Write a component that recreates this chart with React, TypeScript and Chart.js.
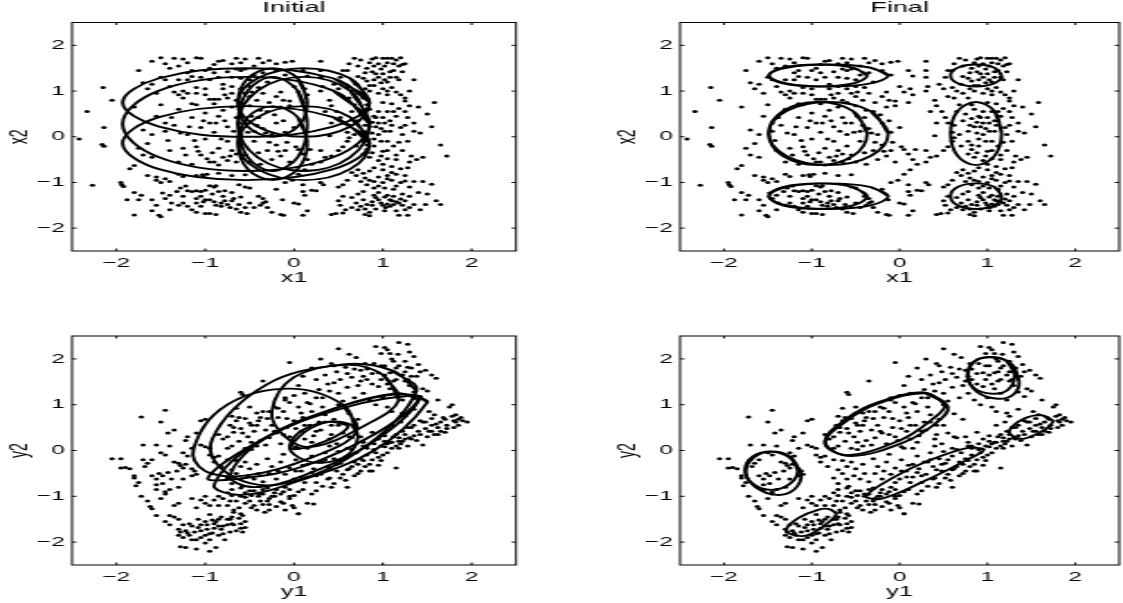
import React, { useEffect, useRef } from "react";
import Chart from "chart.js/auto";

const tickValues = [-2, -1, 0, 1, 2];
const panelTitles = ["Initial", "Final", "", ""];
const xLabels = ["x1", "x1", "y1", "y1"];
const yLabels = ["x2", "x2", "y2", "y2"];

// observed x-space dots as x,y pairs
const xDots = [
-2.33,.55,-2.42,-.05,-2.15,1.08,-2.05,.8,-2.16,-.17,-2.14,-.21,-2.14,.2,-2.27,-1.06,-1.95,-1.0,-1.94,-1.05,-1.92,-1.09,-1.8,.65,-1.85,-.7,-1.8,-.63,
-1.88,-1.38,-1.8,-1.22,-1.72,-1.28,-1.75,-1.38,-1.8,-1.71,-1.6,-1.62,-1.52,-1.72,-1.5,-1.75,-1.6,-1.38,-1.55,-1.5,-1.48,-1.23,-1.4,-1.28,-1.4,-1.6,-1.38,-1.45,
-1.65,-.85,-1.55,-.88,-1.55,-.95,-1.45,-.92,-1.4,-.98,-1.5,-1.0,-1.3,-.82,-1.25,-.87,-1.1,-.85,-1.03,-.83,-1.02,-.87,-.98,-.82,-.85,-.8,-.7,-.85,-.55,-.83,
-1.22,-1.08,-1.15,-1.2,-1.1,-1.18,-1.05,-1.2,-1.0,-1.17,-.95,-1.07,-.9,-1.1,-.88,-1.07,-.85,-1.2,-.8,-1.3,-.7,-1.22,-.62,-1.05,-.55,-1.1,-.5,-1.12,-.4,-1.3,
-1.2,-1.52,-1.1,-1.65,-1.15,-1.6,-1.0,-1.68,-.95,-1.68,-.88,-1.7,-.9,-1.42,-.88,-1.5,-.95,-1.38,-.82,-1.45,-.82,-1.52,-.72,-1.55,-.65,-1.58,-.6,-1.65,-.53,-1.68,-.45,-1.55,-.38,-1.5,-.35,-1.45,-.35,-1.35,-.3,-1.55,-.25,-1.65,-.15,-1.7,-.12,-1.72,-.13,-1.38,
.0,-1.45,.05,-1.47,.1,-1.72,.15,-1.62,.12,-1.28,.2,-1.17,.25,-1.18,.1,-1.2,.3,-1.0,.33,-1.05,.42,-1.7,.47,-1.68,.55,-1.67,.5,-1.1,.55,-1.05,.55,-1.3,.5,-1.4,.52,-1.5,
.58,-1.6,.65,-1.55,.65,-1.33,.7,-1.45,.72,-1.25,.72,-1.6,.8,-1.58,.8,-1.7,.82,-1.48,.85,-1.65,.85,-1.73,.88,-1.5,.92,-1.58,.9,-1.28,.95,-1.22,1.0,-1.5,1.02,-1.62,1.05,-1.28,1.05,-1.47,1.08,-1.52,1.1,-1.4,1.12,-1.48,1.15,-1.42,1.15,-1.62,1.18,-1.72,1.2,-1.36,1.22,-1.5,1.25,-1.6,1.28,-1.72,1.3,-1.3,1.35,-1.48,1.4,-1.22,1.42,-1.6,1.48,-1.48,1.5,-1.25,1.6,-1.4,1.65,-1.48,1.55,-1.04,
1.45,-.98,1.35,-.98,1.25,-.97,1.2,-1.0,1.1,-.95,1.05,-.92,1.0,-1.0,.9,-.98,.85,-.95,.8,-.9,.75,-.98,.7,-.85,.65,-.78,.72,-.72,.85,-.75,1.0,-.72,1.1,-.65,1.2,-.7,1.28,-.68,1.3,-.55,1.38,-.5,1.15,-.5,1.05,-.48,.95,-.52,.85,-.45,
-.1,-1.0,-.02,-.95,.05,-.82,.12,-.72,.2,-.6,.3,-.55,.35,-.45,.42,-.42,.3,-.3,.18,-.28,.1,-.38,.15,-.5,.05,-.28,.5,-.3,.55,-.22,.6,-.1,.68,.05,.4,.02,.42,.3,.35,.55,.4,.8,.3,1.0,.32,1.1,.12,1.05,.15,1.33,.3,1.45,.3,1.65,
-1.6,.05,-1.7,.15,-1.75,-.25,-1.7,-.4,-1.65,-.15,-1.6,-.45,-1.55,.45,-1.5,.7,-1.45,.3,-1.42,-.08,-1.4,-.3,-1.35,.25,-1.3,.6,-1.3,-.55,-1.25,.85,-1.25,-.25,-1.2,.05,-1.15,.42,-1.15,-.6,-1.1,.7,-1.1,-.22,-1.05,.2,-1.05,-.4,-1.0,.52,-1.0,-.05,-.95,.3,-.95,-.55,-.9,.72,-.9,.1,-.85,-.25,-.85,.45,-.8,-.45,-.8,.58,-.75,-.1,-.75,.22,-.7,.65,-.7,-.3,-.65,-.55,-.65,.42,-.6,.05,-.6,-.2,-.55,.3,-.55,-.4,-.5,.68,-.5,-.55,-.45,.12,-.45,-.1,-.4,.42,-.4,-.35,-.38,-.6,-.35,.18,-.3,-.3,-.3,.55,-.25,.05,-.25,-.5,-.2,.3,-.2,-.18,-.15,-.42,-.15,.65,-.1,.1,-.1,-.3,-.05,.78,-.05,-.55,.0,.2,.02,-.22,
-1.3,.92,-1.25,1.0,-1.2,.95,-1.15,.72,-1.1,.95,-1.0,.92,-.95,.82,-.9,.82,-.85,.82,-.78,.92,-.75,.85,-.7,.95,-.65,.8,-.6,.75,-.55,.95,-.5,.88,-.48,.98,-.42,.8,-.35,.95,-.28,.75,-.2,.88,-.15,.98,-.12,.8,-.05,.68,.05,.98,.1,.75,.15,.92,
.42,.68,.48,.55,.52,.42,.55,.3,.6,.1,.62,-.02,.65,.55,.68,.7,.72,.95,.78,.85,.82,.7,.85,.6,.9,.45,.92,.22,.95,.05,.98,-.1,1.0,.75,1.02,.3,1.05,.55,1.08,.12,1.1,.72,1.12,-.2,1.15,.45,1.18,.62,1.2,.2,1.22,-.3,1.25,.55,1.28,.42,1.3,.68,1.32,-.42,1.35,.3,1.4,.65,1.42,.08,1.45,-.45,1.5,.5,1.55,.22,1.58,.75,1.65,-.18,1.72,-.42,.62,.25,.7,-.2,.78,-.38,.82,-.18,.88,.32,.9,-.05,.95,.55,1.0,-.32,
.6,1.08,.65,1.0,.7,1.15,.8,1.05,.85,1.0,.9,1.12,.95,.95,1.0,1.05,1.05,.92,1.1,1.08,1.15,.98,1.2,.92,1.25,.85,1.3,1.0,1.25,.78,.55,.88,.62,.85,
-1.6,1.65,-1.5,1.73,-1.45,1.6,-1.4,1.5,-1.35,1.72,-1.3,1.55,-1.25,1.7,-1.2,1.62,-1.15,1.45,-1.1,1.73,-1.05,1.72,-.95,1.5,-.9,1.58,-.85,1.65,-.8,1.67,-.7,1.6,-.65,1.72,-.6,1.62,-.55,1.7,-.45,1.55,-.4,1.72,-.35,1.62,-.28,1.67,-.2,1.6,-.1,1.63,-.02,1.65,.1,1.45,.3,1.3,
-1.75,1.45,-1.7,1.18,-1.65,1.05,-1.6,1.15,-1.55,.95,-1.5,1.3,-1.45,1.25,-1.4,1.1,-1.35,.98,-1.3,1.25,-1.2,1.4,-1.1,1.08,-1.05,1.3,-1.0,1.05,-.9,1.4,-.8,1.15,-.7,1.3,-.6,1.45,-.5,1.25,-.4,1.08,-.35,1.4,-.3,1.2,-.2,1.45,-.1,1.35,.0,1.1,
.45,1.15,.5,1.05,.52,1.3,.55,1.45,.6,1.45,.62,1.6,.68,1.72,.72,1.55,.78,1.28,.8,1.4,.82,1.5,.88,1.7,.9,1.25,.92,1.38,.95,1.6,.98,1.48,1.0,1.72,1.02,1.55,1.05,1.2,1.08,1.42,1.1,1.72,1.12,1.6,1.15,1.3,1.18,1.55,1.2,1.73,1.22,1.42,1.25,1.6,1.35,1.25,.75,1.68,.98,1.18,
-1.45,-1.35,-1.3,-1.5,-1.25,-1.3,-1.05,-1.3,-1.0,-1.38,-.7,-1.4,-.6,-1.32,-.78,-1.18,-1.1,-1.35,-.2,-1.15,-.32,-1.42,.1,-1.05,.95,-1.38,1.02,-1.32,.78,-1.2,1.3,-1.1,.6,-.95,.95,-1.08,
.75,-1.52,.78,-1.38,.88,-1.42,.92,-1.33,.98,-1.45,1.03,-1.55,1.08,-1.38,1.12,-1.3,1.18,-1.45,1.22,-1.25,1.25,-1.4,1.3,-1.55,1.12,-1.15,1.02,-1.12,.9,-1.12,.82,-1.05,1.15,-1.08,.95,-.88,1.05,-.85,1.15,-.82,1.25,-.85,.78,-.8,.9,-.68,1.0,-.6,1.1,-.78,
.72,.35,.75,.5,.78,.12,.8,.25,.82,.4,.85,.22,.88,.08,.9,-.2,.92,.42,.95,.3,.98,.18,1.0,.42,1.02,.12,1.05,-.1,1.08,.35,1.1,.25,1.12,.55,.78,-.1,.82,-.28,.88,-.35,.98,-.42,1.05,-.3,1.15,-.4,1.18,-.12,1.22,.05,1.28,-.1,1.25,.25,1.35,.12,
.72,1.32,.82,1.22,.85,1.62,.88,1.42,.9,1.55,.95,1.3,1.0,1.38,1.02,1.25,1.05,1.62,1.08,1.3,1.12,1.45,1.15,1.68,1.18,1.25,1.22,1.58,1.05,1.72,.92,1.73,.85,1.12,1.05,1.0,
-1.45,.12,-1.38,.42,-1.28,.08,-1.22,-.4,-1.18,.22,-1.12,-.08,-1.08,-.32,-1.02,.35,-.98,-.48,-.92,-.35,-.88,.3,-.82,-.05,-.78,.35,-.72,-.42,-.68,.12,-.62,.3,-.58,-.48,-.52,.1,-.48,.45,-.42,.25,-.38,.58,-.32,.08,-.28,-.12,-.22,.48,-.18,-.32,-.12,.35,-.08,-.12,-.9,-.55,-.85,-.62,-.75,-.52,-.65,-.38,
-1.2,1.25,-1.15,1.32,-1.0,1.45,-.95,1.25,-.85,1.3,-.75,1.42,-.65,1.48,-.6,1.28,-.55,1.48,-.45,1.35,-.8,1.05,-.7,1.1,-.6,1.05,-.5,1.1,
-1.1,-1.45,-1.05,-1.52,-1.02,-1.42,-.78,-1.4,-.75,-1.48,-.68,-1.35,-.62,-1.48,-.55,-1.55,-.5,-1.45,-1.25,-1.45,-1.32,-1.2,-1.28,-1.12,-1.2,-1.18,-.92,-1.25
];

// observed y-space dots as x,y pairs
const yDots = [
-2.05,-.18,-1.95,-.38,-1.9,-.37,-1.95,-.18,-1.85,-.4,-1.8,-.6,-1.75,-.7,-1.78,-.77,-1.8,-.55,-1.7,-.2,-1.68,-.35,-1.6,-.55,-1.55,-.75,-1.6,-.2,-1.65,-.28,-1.7,.12,-1.72,.73,-1.5,.62,-1.45,.88,-1.42,.38,-1.35,.45,-1.55,.12,-1.5,-.05,-1.4,.1,-1.45,-.1,-1.35,-.25,-1.3,-.28,-1.25,-.38,-1.2,-.12,-1.15,-.55,-1.25,-.05,
-1.52,-.5,-1.48,-.55,-1.42,-.48,-1.38,-.62,-1.55,-.62,-1.48,-.72,-1.32,-.45,-1.28,-.33,-1.22,-.3,-1.15,-.4,-1.1,-.52,-1.12,-.45,-1.25,-.62,-1.3,-.8,-1.4,-.85,-1.45,-.95,-1.55,-.85,-1.72,-1.0,-1.65,-1.1,-1.62,-1.22,-1.6,-1.27,-1.55,-1.42,-1.5,-1.05,-1.45,-.9,-1.35,-1.2,-1.4,-1.42,-1.3,-1.15,
-1.22,.22,-1.2,.3,-1.1,.38,-1.05,.65,-1.0,.68,-1.15,.05,-1.05,.12,-1.0,.08,-.95,.05,-.85,.35,-.8,.25,-.95,-.1,-.9,-.15,-.85,-.12,-.75,.05,-.7,.1,
-1.45,-1.55,-1.4,-1.62,-1.35,-1.45,-1.3,-1.72,-1.3,-1.85,-1.28,-2.1,-1.22,-2.12,-1.2,-1.8,-1.15,-1.65,-1.1,-1.95,-1.1,-2.15,-1.05,-1.75,-1.0,-1.55,-1.0,-2.02,-.95,-2.2,-.95,-1.82,-.9,-1.6,-.9,-1.7,-.88,-2.12,-.85,-1.85,-.8,-1.65,-.78,-1.95,-.75,-1.5,-.72,-1.78,-.7,-1.6,-.65,-1.75,-.62,-1.48,-.6,-1.6,-.58,-1.78,-.55,-1.55,
-1.3,-1.5,-1.25,-1.62,-1.22,-1.75,-1.18,-1.6,-1.12,-1.78,-1.08,-1.5,-1.05,-1.62,-1.0,-1.85,-.98,-1.72,-.95,-1.4,-.92,-1.52,-.85,-1.5,-.82,-1.72,-.75,-1.62,-.7,-1.45,-.68,-1.35,-1.15,-1.05,-1.1,-1.25,-1.05,-1.08,-1.0,-1.0,-.95,-1.2,-.9,-1.08,-.85,-1.2,-.8,-1.05,-.75,-1.2,-.7,-.98,-.68,-1.3,-.65,-1.1,-.62,-1.25,-.6,-1.38,-.55,-1.02,-.5,-1.1,-.45,-1.2,-.42,-1.3,-.4,-1.0,-.35,-1.18,-.33,-1.35,-.3,-1.1,-.28,-1.3,-.25,-1.0,-.2,-1.22,-.15,-1.12,-.1,-1.3,-.05,-1.05,.0,-1.25,.05,-1.38,.05,-.9,-.05,-.85,.15,-1.15,.2,-.95,-.35,-.95,-.45,-.88,-.55,-.92,-.6,-.82,-.7,-.85,-.75,-.92,
-.75,-.6,-.7,-.42,-.65,-.5,-.6,-.35,-.6,-.62,-.55,-.25,-.52,-.55,-.5,-.4,-.45,-.62,-.42,-.3,-.4,-.5,-.35,-.68,-.3,-.18,-.28,-.5,-.25,-.35,-.2,-.62,-.18,-.45,-.15,-.25,-.12,-.08,-.1,-.52,-.05,-.38,.0,-.62,.02,-.2,.08,-.45,.1,-.32,.12,-.7,.15,-.58,.2,-.12,.22,-.4,.25,-.7,.28,-.25,.3,-.52,.35,-.05,.38,-.35,.4,-.6,.42,-.8,.45,-.18,.48,-.45,.5,-.02,.52,-.28,.55,-.52,.58,-.65,.6,-.12,.62,-.4,.65,.02,.68,-.25,.7,-.05,.72,-.5,.75,-.18,.78,.1,.8,-.35,.82,.05,.85,-.45,.88,-.2,.9,.15,.92,-.05,.95,-.32,.98,.1,1.0,-.1,1.02,.2,1.05,.15,1.1,.05,1.15,-.38,1.12,.3,1.2,.15,1.25,.25,
-.75,.3,-.72,.55,-.7,.75,-.68,.4,-.65,.92,-.65,.65,-.62,.2,-.6,.48,-.58,1.22,-.6,1.27,-.55,.7,-.52,.3,-.5,.95,-.48,.55,-.45,.42,-.42,.82,-.4,.65,-.38,.22,-.35,1.52,-.35,.85,-.32,.45,-.3,.7,-.28,.28,-.25,.55,-.22,.95,-.2,.38,-.18,.72,-.15,.15,-.12,.85,-.1,1.1,-.08,.5,-.05,.3,-.05,1.92,.0,.65,.02,.08,.05,.95,.08,.42,.1,.72,.12,.25,.15,1.05,.18,.55,.2,.85,.22,.32,.25,1.15,.28,.62,.3,.45,.32,.95,.35,.78,.4,.25,.42,.55,.45,.68,.48,.15,.5,1.0,.55,.38,.6,.05,.62,.8,.65,.28,.72,.68,
-.1,1.15,-.05,1.05,.0,1.2,.05,1.42,.1,1.62,.12,1.25,.18,1.02,.2,1.8,.25,1.55,.28,1.33,.3,2.0,.32,1.15,.35,1.65,.4,1.3,.42,1.9,.45,1.48,.48,1.72,.5,1.25,.5,2.22,.52,1.55,.55,1.08,.58,1.82,.6,1.38,.62,2.1,.65,1.6,.68,1.15,.7,2.03,.72,1.42,.75,1.75,.78,1.25,.8,1.9,.82,1.55,.85,1.1,.88,1.68,.92,1.0,.95,1.4,.98,1.85,1.0,1.15,1.02,1.65,1.05,.95,1.08,1.35,1.1,2.0,1.12,1.52,1.15,1.25,
.92,2.27,.98,2.12,1.02,2.25,1.05,2.2,1.08,2.12,1.12,1.95,1.15,1.8,1.17,2.1,1.18,2.36,1.25,1.95,1.28,2.32,1.3,2.15,1.32,1.8,1.35,2.05,1.38,1.62,1.4,1.88,1.42,1.72,1.45,1.35,1.25,1.52,1.3,1.42,1.22,1.1,1.35,1.28,1.28,1.82,1.48,1.75,1.55,1.65,1.6,1.58,1.42,1.18,1.5,1.3,
1.1,.55,1.15,.35,1.18,.2,1.2,.62,1.22,.42,1.25,.75,1.28,.1,1.3,.28,1.32,.5,1.35,.55,1.38,.22,1.4,.42,1.42,.65,1.45,.12,1.48,.48,1.5,.3,1.52,.85,1.55,.42,1.58,.78,1.6,.58,1.62,.35,1.65,.62,1.68,.72,1.7,.4,1.72,.55,1.75,.95,1.78,1.0,1.8,.65,1.82,.78,1.85,.55,1.88,.72,1.9,.65,1.95,.62,1.62,1.1,1.8,.5,1.55,.7,1.45,.62,1.35,.9,1.22,.82,1.1,.85,1.18,.05,1.08,.18,1.02,.32,
-.05,-.7,-.1,-.8,-.2,-.85,-.3,-.82,-.4,-.95,-.5,-.88,-.58,-.78,-.7,-.72,.05,-1.38,-.05,-1.0,-.12,-1.15,.0,-.98,-.02,-1.2,-.28,-1.05,.22,-1.17,-.55,-1.15,.1,-.85,.25,-.88,.32,-.78,.45,-.72,.6,-.8,-.15,-.95,-.22,-1.0,.35,-.2,.15,.05,.4,.1,.05,.05,.75,.3,.62,.3,.78,.18,.88,.4,.95,.25,.82,.1,
-1.28,-1.78,-1.25,-1.9,-1.18,-1.85,-1.15,-1.95,-1.08,-1.68,-1.05,-1.9,-.98,-1.62,-.95,-1.95,-.92,-1.8,-.88,-1.55,-.85,-1.65,-.82,-1.45,-.8,-1.82,-.72,-1.5,-.68,-1.62,-.6,-1.7,-.58,-1.42,-.55,-1.68,-1.0,-1.15,-.85,-1.0,-.72,-1.1,-.6,-1.0,-.48,-.98,-.38,-1.1,-.28,-1.18,-.22,-.92,-.12,-.9,-.48,-1.25,-.35,-.85,
-.68,.5,-.62,.72,-.58,.38,-.5,.6,-.48,.18,-.42,.55,-.38,.72,-.32,.12,-.28,.85,-.22,.42,-.18,.92,-.12,.35,-.08,.7,-.02,.22,.02,.48,.08,.82,.12,.55,.2,.18,.25,.42,.35,.62,.42,.35,.5,.55,-.9,-.25,-.82,-.35,-.75,-.2,-.65,-.22,-.55,.05,-.48,.02,-.42,.1,
.02,-.45,.08,-.58,.15,-.3,.2,-.48,.25,-.55,.32,-.25,.38,-.62,.42,-.42,.48,-.3,.52,-.6,.55,-.2,.6,-.42,.65,-.35,.68,-.55,.72,-.3,.75,-.45,.78,-.22,.82,-.1,.85,-.3,.88,-.45,.9,.02,.95,-.15,.98,-.22,1.02,.08,1.05,-.05,1.1,.18,1.15,.1,1.18,.28,
.75,1.52,.82,1.78,.88,1.45,.9,1.9,.95,1.7,.98,1.55,1.02,1.85,1.05,1.45,1.08,1.7,1.12,1.72,1.15,1.55,1.18,1.85,1.22,1.65,1.25,1.72,1.28,1.55,1.32,1.62,.6,1.68,.68,1.78,.78,1.62,.45,1.85,.38,1.45,
1.42,.35,1.48,.62,1.52,.42,1.55,.55,1.58,.35,1.62,.5,1.65,.42,1.7,.68,1.72,.48,1.78,.75,1.82,.62,1.85,.68,1.35,.32,1.32,.25,1.25,.35,1.28,.5,1.22,.2
];

// ellipse outlines: eight points read around each curve
const bigX = [.85, .44, -.54, -1.52, -1.93, -1.52, -.54, .44];
const narrowX = [.15, .04, -.24, -.52, -.63, -.52, -.24, .04];
const midX = [.85, .63, .11, -.41, -.63, -.41, .11, .63];
const upperSpan = [.75, 1.28, 1.5, 1.28, .75, .22, 0, .22];
const lowerSpan = [-.14, .43, .67, .43, -.14, -.71, -.95, -.71];
const fullSpan = [.28, 1.01, 1.31, 1.01, .28, -.45, -.75, -.45];

const leftFinalX = [-.37, -.53, -.93, -1.33, -1.49, -1.33, -.93, -.53];
const leftWideX = [-.13, -.33, -.81, -1.29, -1.49, -1.29, -.81, -.33];
const rightFinalX = [1.16, 1.08, .87, .66, .58, .66, .87, 1.08];
const topRow = [1.34, 1.51, 1.58, 1.51, 1.34, 1.17, 1.1, 1.17];
const midRow = [.07, .56, .76, .56, .07, -.42, -.62, -.42];
const bottomRow = [-1.3, -1.1, -1.02, -1.1, -1.3, -1.5, -1.58, -1.5];

const initialY = [
  [.7,.4,.55,1.0,-.05,1.35,-.75,1.0,-1.13,.05,-1.0,-.45,-.55,-.55,.2,-.15],
  [1.38,1.3,1.1,1.75,.55,1.88,-.3,1.45,-.92,.25,-.75,-.5,-.2,-.75,.7,-.05],
  [1.18,1.1,1.0,1.65,.6,1.87,.0,1.6,-.25,.85,-.1,.3,.2,.08,.8,.55],
  [.6,.55,.42,.63,.2,.5,.03,.25,-.03,.05,.1,.05,.35,.2,.55,.4],
  [.72,.3,.65,.55,.4,.63,.1,.45,-.05,.1,.05,-.15,.3,-.27,.6,-.1],
  [1.4,1.1,1.2,1.24,.56,.98,-.3,.3,-.97,-.6,-.55,-.6,.1,-.35,.9,.35],
  [1.5,1.05,1.35,1.2,.6,.95,-.35,.25,-.9,-.75,-.6,-.97,.0,-.7,.9,.0],
  [1.42,1.15,1.15,1.25,.5,.95,-.3,.3,-.72,-.55,-.45,-.8,.1,-.55,.9,.2],
];
const finalY = [
  [-1.16,-.43,-1.25,-.13,-1.46,-.02,-1.67,-.13,-1.76,-.43,-1.67,-.73,-1.46,-.86,-1.25,-.73],
  [-1.12,-.52,-1.22,-.2,-1.44,-.03,-1.66,-.15,-1.75,-.48,-1.64,-.8,-1.4,-.97,-1.2,-.85],
  [-.72,-1.38,-.8,-1.28,-.92,-1.29,-1.15,-1.47,-1.29,-1.72,-1.22,-1.84,-1.05,-1.85,-.83,-1.6],
  [.52,1.02,.27,1.27,-.25,1.05,-.6,.7,-.85,.2,-.6,-.1,.0,.22,.35,.65],
  [.55,.95,.3,1.25,-.25,1.02,-.6,.65,-.85,.15,-.55,-.12,.05,.18,.4,.58],
  [.96,.02,.8,.07,.33,-.22,-.1,-.62,-.38,-1.0,-.2,-1.05,.3,-.65,.75,-.22],
  [1.31,1.65,1.22,1.95,1.03,2.04,.85,1.95,.77,1.65,.85,1.36,1.05,1.24,1.23,1.32],
  [1.36,1.5,1.28,1.88,1.07,2.03,.86,1.95,.78,1.62,.88,1.28,1.12,1.13,1.3,1.23],
  [1.74,.66,1.62,.77,1.42,.7,1.25,.44,1.3,.3,1.42,.26,1.62,.42,1.72,.56],
];

const toPoints = (flat: number[]) => {
  const out: { x: number; y: number }[] = [];
  for (let i = 0; i + 1 < flat.length; i += 2) out.push({ x: flat[i], y: flat[i + 1] });
  return out;
};
const closeLoop = (p: { x: number; y: number }[]) => [...p, p[0], p[1]];
const zip = (xs: number[], ys: number[]) => xs.map((x, i) => ({ x, y: ys[i] }));

const ellipses = [
  [bigX, narrowX, midX].flatMap((xs) => [upperSpan, lowerSpan, fullSpan].map((ys) => zip(xs, ys))),
  [leftFinalX, leftWideX, rightFinalX].flatMap((xs) => [topRow, midRow, bottomRow].map((ys) => zip(xs, ys))),
  initialY.map(toPoints),
  finalY.map(toPoints),
];
const dots = [xDots, xDots, yDots, yDots].map(toPoints);

const STRETCH = 1.8;
const CANVAS_W = [300, 288, 300, 288];
const CANVAS_H = [290, 290, 301, 301];
const PAGE_LEFT = [0, 607.5, 0, 607.5];
const PAGE_TOP = [0, 0, 303, 303];
const PLOT_TOP = [22.5, 22.5, 33, 33];
const PLOT_H = [228.5, 228.5, 229, 229];
const AXIS_LEFT = 40;
const PLOT_W = 246.7;
const FONT = "'Liberation Sans', Arial, sans-serif";

const framePlugin = {
  id: "frame",
  afterDatasetsDraw(chart: any) {
    const { ctx, chartArea: a, scales } = chart;
    ctx.save();
    ctx.strokeStyle = "#000";
    ctx.lineWidth = 1;
    ctx.strokeRect(a.left, a.top, a.right - a.left, a.bottom - a.top);
    ctx.beginPath();
    tickValues.forEach((v) => {
      const px = scales.x.getPixelForValue(v);
      ctx.moveTo(px, a.top); ctx.lineTo(px, a.top + 2.5);
      ctx.moveTo(px, a.bottom); ctx.lineTo(px, a.bottom - 2.5);
      const py = scales.y.getPixelForValue(v);
      ctx.moveTo(a.left, py); ctx.lineTo(a.left + 2.5, py);
      ctx.moveTo(a.right, py); ctx.lineTo(a.right - 2.5, py);
    });
    ctx.stroke();
    ctx.restore();
  },
};

function Panel({ index }: { index: number }) {
  const ref = useRef<HTMLCanvasElement>(null);
  useEffect(() => {
    const axis = (label: string, isX: boolean) => ({
      type: "linear",
      min: -2.5,
      max: 2.5,
      afterBuildTicks: (s: any) => { s.ticks = tickValues.map((value) => ({ value })); },
      afterFit: (s: any) => {
        if (isX) s.height = CANVAS_H[index] - PLOT_TOP[index] - PLOT_H[index];
        else s.width = AXIS_LEFT;
      },
      grid: { display: false, drawTicks: false },
      border: { display: false },
      ticks: {
        color: "#000",
        font: { family: FONT, size: 13.5 },
        padding: 4,
        maxRotation: 0,
        autoSkip: false,
        callback: (v: number) => String(v).replace("-", "\u2212"),
      },
      title: {
        display: true,
        text: label,
        color: "#000",
        font: { family: FONT, size: 14 },
        padding: { top: 3, bottom: 3 },
      },
    });
    const chart = new Chart(ref.current as HTMLCanvasElement, {
      type: "scatter",
      data: {
        datasets: [
          ...ellipses[index].map((e) => ({
            data: closeLoop(e),
            showLine: true,
            tension: 0.38,
            borderColor: "#000",
            borderWidth: 1.9,
            pointRadius: 0,
          })),
          {
            data: dots[index],
            backgroundColor: "#000",
            borderWidth: 0,
            pointRadius: 1.5,
            showLine: false,
          },
        ],
      },
      options: {
        animation: false,
        responsive: false,
        devicePixelRatio: 1,
        layout: {
          padding: {
            top: panelTitles[index] ? 0 : PLOT_TOP[index],
            right: CANVAS_W[index] - AXIS_LEFT - PLOT_W,
          },
        },
        plugins: {
          legend: { display: false },
          tooltip: { enabled: false },
          title: {
            display: !!panelTitles[index],
            text: panelTitles[index],
            color: "#000",
            fullSize: false,
            font: { family: FONT, size: 15, weight: "normal", lineHeight: 1 },
            padding: { top: 0, bottom: 7.5 },
          },
        },
        scales: { x: axis(xLabels[index], true), y: axis(yLabels[index], false) },
      },
      plugins: [framePlugin],
    } as any);
    return () => chart.destroy();
  }, [index]);
  return (
    <div
      style={{
        position: "absolute",
        left: PAGE_LEFT[index],
        top: PAGE_TOP[index],
        transform: `scaleX(${STRETCH})`,
        transformOrigin: "0 0",
      }}
    >
      <canvas ref={ref} width={CANVAS_W[index]} height={CANVAS_H[index]} style={{ display: "block" }} />
    </div>
  );
}

export default function App() {
  return (
    <div style={{ position: "fixed", left: 0, top: 0, width: 1123, height: 603, overflow: "hidden", background: "#fff" }}>
      {[0, 1, 2, 3].map((i) => (
        <Panel key={i} index={i} />
      ))}
    </div>
  );
}
